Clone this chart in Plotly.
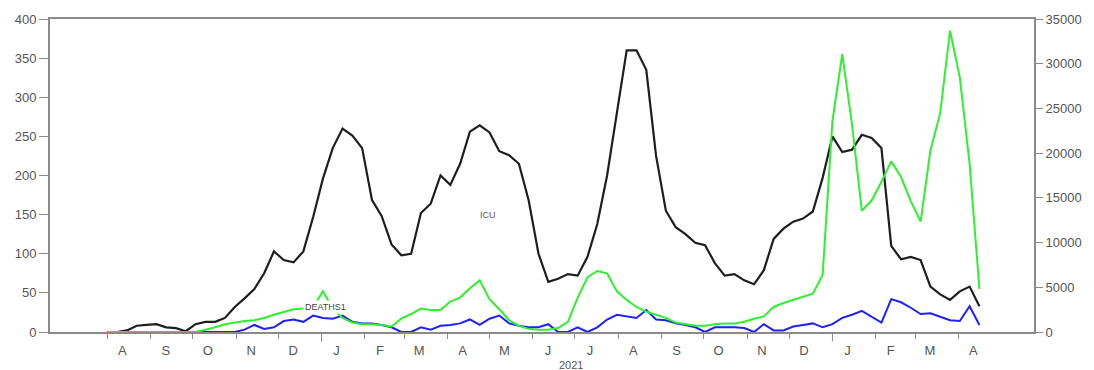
import datetime as dt
import plotly.graph_objects as go

# ---- data (weekly, starting 2020-08-01) ----
start_date = "2020-08-01"
n_weeks = 90

icu = [0, 0, 2, 8, 9, 10, 6, 5, 1, 10,
       13, 13, 18, 32, 43, 55, 75, 103, 92, 89,
       103, 147, 196, 235, 260, 251, 235, 169, 148, 112,
       98, 100, 152, 164, 200, 188, 215, 256, 264, 255,
       231, 226, 215, 168, 100, 64, 68, 74, 72, 96,
       138, 200, 280, 360, 360, 335, 225, 155, 134, 125,
       114, 111, 88, 72, 74, 66, 61, 79, 119, 132,
       141, 145, 154, 197, 250, 230, 233, 252, 248, 235,
       110, 93, 96, 92, 58, 48, 41, 52, 58, 33]

deaths = [0, 0, 0, 0, 0, 0, 0, 0, 0, 0,
          0, 0, 0, 0, 3, 9, 4, 6, 14, 16,
          13, 21, 18, 17, 21, 13, 11, 11, 9, 6,
          0, 0, 6, 3, 8, 9, 11, 16, 9, 17,
          21, 11, 8, 6, 6, 10, 0, 0, 6, 0,
          6, 16, 22, 20, 18, 28, 16, 15, 11, 9,
          6, 0, 6, 6, 6, 5, 0, 10, 2, 2,
          7, 9, 11, 6, 10, 18, 22, 27, 20, 12,
          42, 38, 31, 23, 24, 19, 15, 14, 33, 9]

cases = [0, 0, 0, 0, 0, 0, 0, 0, 0, 0,
         260, 525, 875, 1050, 1225, 1310, 1575, 1925, 2190, 2540,
         2625, 2800, 4550, 2625, 1575, 1050, 875, 875, 790, 610,
         1490, 2010, 2625, 2450, 2450, 3410, 3850, 4900, 5775, 3675,
         2540, 1310, 700, 350, 260, 260, 440, 1140, 3850, 6125,
         6825, 6560, 4550, 3590, 2800, 2275, 1925, 1575, 1050, 875,
         700, 700, 875, 960, 960, 1140, 1490, 1750, 2800, 3240,
         3590, 4025, 4290, 6390, 23600, 31060, 23190, 13560, 14700, 16800,
         19080, 17330, 14610, 12340, 20300, 24500, 33690, 28440, 18810, 4810]

month_letters = ["A", "S", "O", "N", "D", "J", "F", "M", "A", "M", "J", "J",
                 "A", "S", "O", "N", "D", "J", "F", "M", "A"]
left_ticks = [0, 50, 100, 150, 200, 250, 300, 350, 400]
right_ticks = [0, 5000, 10000, 15000, 20000, 25000, 30000, 35000]

# ---- derived ----
d0 = dt.date.fromisoformat(start_date)
dates = [d0 + dt.timedelta(days=7 * i) for i in range(n_weeks)]
month_starts = []
y, m = 2020, 8
for _ in month_letters:
    month_starts.append(dt.date(y, m, 1))
    m += 1
    if m > 12:
        m = 1
        y += 1

GRAY = "#8a8a8a"
TXT = "#555555"
FONT = "Liberation Sans, Arial, sans-serif"

fig = go.Figure()
fig.add_trace(go.Scatter(x=dates, y=cases, mode="lines", yaxis="y2",
                         line=dict(color="#2ef02e", width=2), name="CASES"))
fig.add_trace(go.Scatter(x=dates, y=icu, mode="lines",
                         line=dict(color="#1e1e1e", width=2.2), name="ICU"))
fig.add_trace(go.Scatter(x=dates, y=deaths, mode="lines",
                         line=dict(color="#2020ff", width=2), name="DEATHS1"))

fig.update_layout(
    width=1094, height=370,
    margin=dict(l=50, r=55, t=18, b=38),
    paper_bgcolor="white", plot_bgcolor="white",
    showlegend=False,
    font=dict(family=FONT, size=13, color=TXT),
    xaxis=dict(
        type="date", range=["2020-06-21", "2022-05-25"],
        tickmode="array", tickvals=month_starts, ticktext=month_letters,
        ticks="outside", ticklen=5, tickcolor=GRAY, tickwidth=1,
        ticklabelshift=15,
        showline=True, linecolor=GRAY, linewidth=2, mirror=True,
        showgrid=False, zeroline=False,
        tickfont=dict(size=13, color=TXT, family=FONT),
    ),
    yaxis=dict(
        range=[0, 400], tickvals=left_ticks,
        ticks="outside", ticklen=9, tickcolor=GRAY, tickwidth=1,
        showline=True, linecolor=GRAY, linewidth=2,
        showgrid=False, zeroline=False,
        tickfont=dict(size=13, color=TXT, family=FONT),
    ),
    yaxis2=dict(
        range=[0, 35000], tickvals=right_ticks, tickformat="d",
        overlaying="y", side="right",
        ticks="outside", ticklen=7, tickcolor=GRAY, tickwidth=1,
        showline=True, linecolor=GRAY, linewidth=2,
        showgrid=False, zeroline=False,
        tickfont=dict(size=13, color=TXT, family=FONT),
    ),
)

# longer ticks at year boundaries
for yr in (2021, 2022):
    fig.add_shape(type="line", xref="x", yref="paper",
                  x0=dt.date(yr, 1, 1), x1=dt.date(yr, 1, 1), y0=0, y1=-0.03,
                  line=dict(color=GRAY, width=1))

fig.add_annotation(x=dt.date(2021, 6, 28), y=-0.105, xref="x", yref="paper",
                   text="2021", showarrow=False, yanchor="middle",
                   font=dict(size=11, color=TXT, family=FONT))
fig.add_annotation(x=dt.date(2021, 4, 30), y=149, xref="x", yref="y",
                   text="ICU", showarrow=False,
                   font=dict(size=9, color="#6a5050", family=FONT))
fig.add_annotation(x=dt.date(2021, 1, 4), y=32, xref="x", yref="y",
                   text="DEATHS1", showarrow=False, bgcolor="white",
                   font=dict(size=9, color="#444444", family=FONT))

fig.write_html("out.html")
